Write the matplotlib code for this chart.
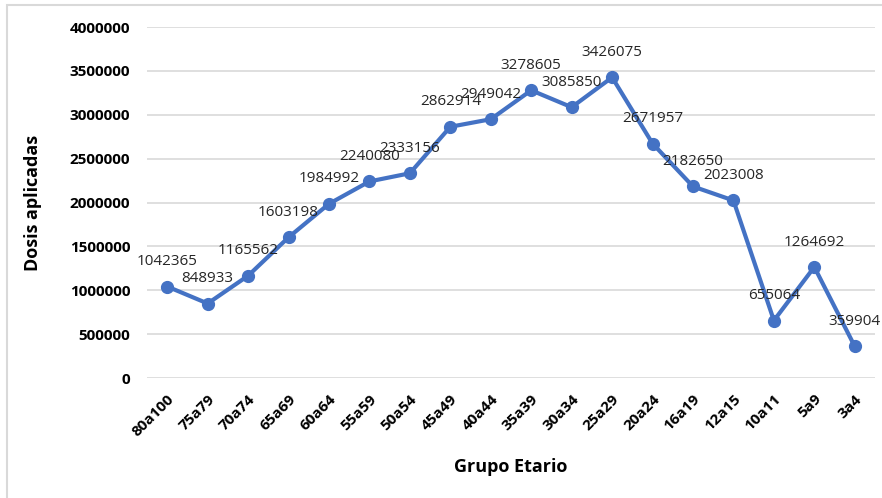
import matplotlib
matplotlib.use("Agg")
import matplotlib.pyplot as plt
from matplotlib.patches import Rectangle

# data
grupos = ["80a100", "75a79", "70a74", "65a69", "60a64", "55a59", "50a54", "45a49",
          "40a44", "35a39", "30a34", "25a29", "20a24", "16a19", "12a15", "10a11",
          "5a9", "3a4"]
dosis = [1042365, 848933, 1165562, 1603198, 1984992, 2240080, 2333156, 2862914,
         2949042, 3278605, 3085850, 3426075, 2671957, 2182650, 2023008, 655064,
         1264692, 359904]
yticks = [0, 500000, 1000000, 1500000, 2000000, 2500000, 3000000, 3500000, 4000000]

plt.rcParams['font.family'] = ['Open Sans', 'DejaVu Sans']
azul = "#4472C4"
gris = "#D9D9D9"

fig = plt.figure(figsize=(8.82, 4.98), dpi=100)
fig.patches.append(Rectangle((7 / 882, -0.1), 1.1, (498 - 5) / 498 + 0.1,
                             transform=fig.transFigure, fill=False,
                             edgecolor=gris, linewidth=1.5))
ax = fig.add_axes([147 / 882, 120 / 498, 728 / 882, 351 / 498])

x = list(range(len(grupos)))
ax.plot(x, dosis, color=azul, linewidth=3, marker="o", markersize=8.5, zorder=3)

for xi, v in zip(x, dosis):
    ax.annotate(str(v), (xi, v), xytext=(0, 18), textcoords="offset points",
                ha="center", va="center", fontsize=11, color="#262626", zorder=4)

ax.set_xlim(-0.5, len(grupos) - 0.5)
ax.set_ylim(0, 4000000)
ax.set_yticks(yticks)
ax.set_yticklabels([str(t) for t in yticks], fontweight="bold", fontsize=11)
ax.set_xticks(x)
ax.set_xticklabels(grupos, rotation=45, ha="right", va="top", rotation_mode="anchor",
                   fontweight="bold", fontsize=11)
ax.tick_params(axis="both", length=0, colors="#000000")
ax.tick_params(axis="y", pad=12)
ax.tick_params(axis="x", pad=10)
ax.grid(axis="y", color=gris, linewidth=1.2)
ax.set_axisbelow(True)
for s in ax.spines.values():
    s.set_visible(False)

ax.set_xlabel("Grupo Etario", fontweight="bold", fontsize=13, labelpad=14)
ax.set_ylabel("Dosis aplicadas", fontweight="bold", fontsize=13, labelpad=20)

fig.savefig("out.png", dpi=100)
